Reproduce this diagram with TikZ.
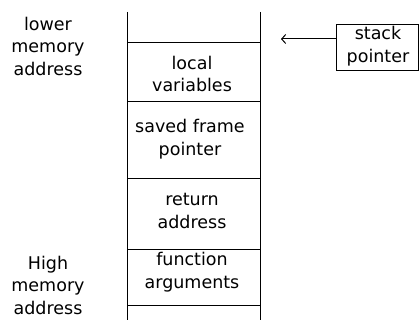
\documentclass[tikz,border=0pt]{standalone}
\usepackage{fontspec}
\setmainfont{DejaVu Sans}
\usetikzlibrary{arrows.meta}
\begin{document}
\begin{tikzpicture}[x=1pt,y=-1pt,
  lbl/.style={align=center,font=\fontsize{17.5}{22.5}\selectfont,inner sep=0pt},
  ln/.style={line width=1pt}]
\useasboundingbox (0,0) rectangle (419,320);
% stack walls
\coordinate (tl) at (127,12);
\coordinate (bl) at (127,320);
\coordinate (tr) at (260,12);
\coordinate (br) at (260,320);
\draw[ln] (tl) -- (bl);
\draw[ln] (tr) -- (br);
% separators
\foreach \y/\n in {43/a,102/b,178/c,249/d,305/e}{
  \coordinate (l\n) at (127,\y);
  \coordinate (r\n) at (260,\y);
  \draw[ln] (l\n) -- (r\n);
}
% cell labels
\node[lbl] (lv) at (192,74) {local\\variables};
\node[lbl] (sfp) at (190,139) {saved frame\\pointer};
\node[lbl] (ra) at (192,211) {return\\address};
\node[lbl] (fa) at (192,272) {function\\arguments};
% side labels
\node[lbl] (low) at (48,46) {lower\\memory\\address};
\node[lbl] (high) at (48,285) {High\\memory\\address};
% stack pointer
\node[ln,draw,minimum width=82pt,minimum height=46pt,anchor=north west,inner sep=0pt] (sp) at (336,24) {};
\node[lbl] (spt) at (378,46) {stack\\pointer};
\coordinate (arrend) at (281,39);
\draw[ln,-{Straight Barb[length=4pt,width=9pt]}] (sp.west |- arrend) -- (arrend);
\end{tikzpicture}
\end{document}
